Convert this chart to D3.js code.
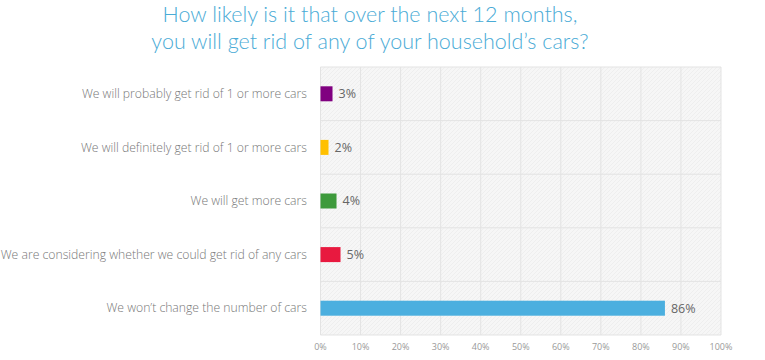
<!DOCTYPE html>
<html><head><meta charset="utf-8">
<script src="https://cdn.jsdelivr.net/npm/d3@7"></script>
<style>body{margin:0;background:#fff}svg{display:block}</style>
</head><body>
<script>
const titleLines = ["How likely is it that over the next 12 months,", "you will get rid of any of your household\u2019s cars?"];
const categories = [
  "We will probably get rid of 1 or more cars",
  "We will definitely get rid of 1 or more cars",
  "We will get more cars",
  "We are considering whether we could get rid of any cars",
  "We won\u2019t change the number of cars"
];
const values = [3, 2, 4, 5, 86];
const colors = ["#800080", "#ffc000", "#3d9a3b", "#e8193f", "#4bafdf"];
const ticks = [0,10,20,30,40,50,60,70,80,90,100];

const W = 765, H = 360;
const m = {left: 320.5, right: 44, top: 67, bottom: 25};
const svg = d3.select("body").append("svg").attr("width", W).attr("height", H);
const defs = svg.append("defs");
const pat = defs.append("pattern").attr("id","hatch").attr("patternUnits","userSpaceOnUse").attr("width",4).attr("height",4);
pat.append("rect").attr("width",4).attr("height",4).attr("fill","#f6f6f6");
pat.append("path").attr("d","M0,4 L4,0").attr("stroke","#ececec").attr("stroke-width",0.8);

const x = d3.scaleLinear().domain([0,100]).range([m.left, W - m.right]);
const y = d3.scaleBand().domain(categories).range([m.top, H - m.bottom]);

svg.append("rect").attr("x", x(0)).attr("y", m.top).attr("width", x(100)-x(0)).attr("height", H-m.bottom-m.top).attr("fill","url(#hatch)");

svg.append("g").selectAll("line").data(ticks).join("line")
  .attr("x1", d=>x(d)).attr("x2", d=>x(d)).attr("y1", m.top).attr("y2", H-m.bottom)
  .attr("stroke","#e3e3e3").attr("stroke-width",1);
const hb = categories.map(c=>y(c)).concat([y(categories[categories.length-1]) + y.bandwidth()]);
svg.append("g").selectAll("line").data(hb).join("line")
  .attr("x1", x(0)).attr("x2", x(100)).attr("y1", d=>d).attr("y2", d=>d)
  .attr("stroke","#e3e3e3").attr("stroke-width",1);

const bh = 15;
svg.append("g").selectAll("rect").data(values).join("rect")
  .attr("x", x(0)).attr("y", (d,i)=>y(categories[i]) + y.bandwidth()/2 - bh/2)
  .attr("width", d=>x(d)-x(0)).attr("height", bh).attr("fill", (d,i)=>colors[i]);

svg.append("g").selectAll("text").data(values).join("text")
  .attr("x", d=>x(d)+6).attr("y", (d,i)=>y(categories[i]) + y.bandwidth()/2)
  .attr("dy","0.35em").attr("font-family","Open Sans, sans-serif").attr("font-size",12.5)
  .attr("fill","#666").text(d=>d+"%");

svg.append("g").selectAll("text").data(categories).join("text")
  .attr("x", 307).attr("y", d=>y(d)+y.bandwidth()/2).attr("dy","0.35em")
  .attr("text-anchor","end").attr("font-family","Open Sans, sans-serif").attr("font-weight",300)
  .attr("font-size",12.2).attr("fill","#777").text(d=>d);

svg.append("g").selectAll("text").data(ticks).join("text")
  .attr("x", d=>x(d)).attr("y", 350).attr("text-anchor","middle")
  .attr("font-family","Open Sans, sans-serif").attr("font-size",9).attr("fill","#999")
  .text(d=>d+"%");

svg.append("g").selectAll("text").data(titleLines).join("text")
  .attr("x", 370).attr("y", (d,i)=>22 + i*26.5).attr("text-anchor","middle")
  .attr("font-family","Lato, sans-serif").attr("font-weight",300).attr("font-size",21.5)
  .attr("fill","#4aabd6").text(d=>d);
</script>
</body></html>
